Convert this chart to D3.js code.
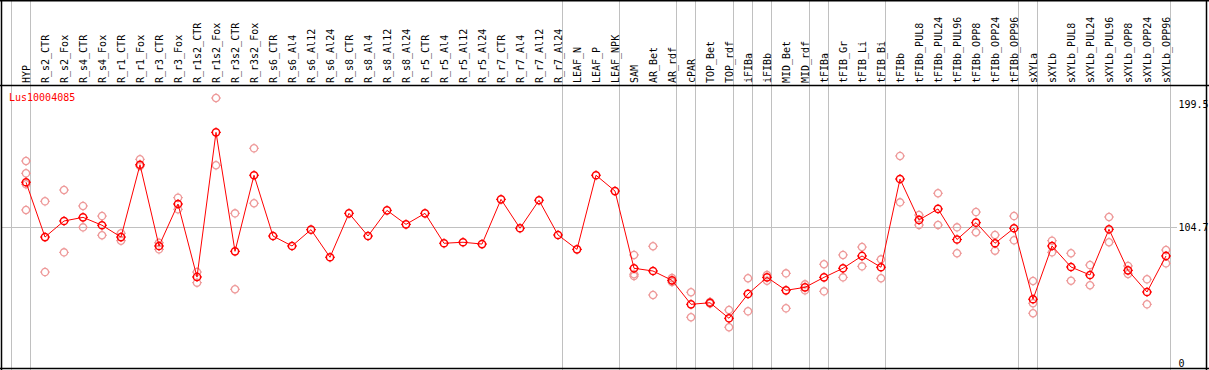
<!DOCTYPE html>
<html>
<head>
<meta charset="utf-8">
<script src="https://cdn.jsdelivr.net/npm/d3@7"></script>
<style>
  body { margin: 0; background: #ffffff; }
  text { font-family: "DejaVu Sans Mono", monospace; font-size: 10px; }
</style>
</head>
<body>
<svg id="chart" width="1209" height="370"></svg>
<script>
const geneName = "Lus10004085";

const categories = [
  "HYP", "R_s2_CTR", "R_s2_Fox", "R_s4_CTR", "R_s4_Fox", "R_r1_CTR", "R_r1_Fox",
  "R_r3_CTR", "R_r3_Fox", "R_r1s2_CTR", "R_r1s2_Fox", "R_r3s2_CTR", "R_r3s2_Fox",
  "R_s6_CTR", "R_s6_Al4", "R_s6_Al12", "R_s6_Al24", "R_s8_CTR", "R_s8_Al4",
  "R_s8_Al12", "R_s8_Al24", "R_r5_CTR", "R_r5_Al4", "R_r5_Al12", "R_r5_Al24",
  "R_r7_CTR", "R_r7_Al4", "R_r7_Al12", "R_r7_Al24", "LEAF_N", "LEAF_P", "LEAF_NPK",
  "SAM", "AR_Bet", "AR_rdf", "cPAR", "TOP_Bet", "TOP_rdf", "iFIBa", "iFIBb",
  "MID_Bet", "MID_rdf", "tFIBa", "tFIB_Gr", "tFIB_Li", "tFIB_Bi", "tFIBb",
  "tFIBb_PUL8", "tFIBb_PUL24", "tFIBb_PUL96", "tFIBb_OPP8", "tFIBb_OPP24", "tFIBb_OPP96",
  "sXYLa", "sXYLb", "sXYLb_PUL8", "sXYLb_PUL24", "sXYLb_PUL96", "sXYLb_OPP8",
  "sXYLb_OPP24", "sXYLb_OPP96"
];

// mean expression per sample
const means = [
  139.5, 97.2, 109.6, 112.4, 106.3, 97.2, 153.0,
  90.3, 122.7, 66.4, 178.0, 86.2, 144.9,
  98.0, 90.3, 102.9, 81.6, 115.5, 98.0,
  117.8, 107.0, 115.5, 92.4, 93.2, 91.8,
  126.3, 104.0, 125.6, 98.8, 87.7, 144.9, 132.7,
  73.1, 71.0, 63.8, 45.3, 46.5, 34.5, 53.3, 66.1,
  56.1, 58.4, 66.1, 73.1, 82.6, 73.9, 142.0,
  110.4, 118.9, 95.3, 108.3, 92.4, 104.0,
  49.2, 90.3, 74.1, 67.9, 103.2, 71.5,
  54.8, 82.6
];

// individual replicates (empty where none shown)
const replicates = [
  [155.9, 146.4, 137.9, 118.1], [124.8, 70.2], [133.5, 85.4], [121.2, 104.7], [113.4, 98.6], [100.1, 94.4], [157.2, 152.0],
  [92.8, 87.7], [127.6, 118.6], [70.2, 62.0], [204.5, 152.6], [115.5, 56.9], [165.7, 123.3],
  [], [], [], [], [], [],
  [], [], [], [], [], [],
  [], [], [], [], [], [], [],
  [83.4, 68.5, 67.1], [90.1, 52.5], [65.6, 62.5], [54.6, 35.3], [47.1, 45.9], [40.9, 27.6], [65.4, 39.9], [67.9, 63.5],
  [69.2, 42.2], [60.7, 56.1], [76.2, 55.3], [83.4, 66.1], [89.5, 74.6], [80.0, 65.4], [159.8, 124.0],
  [114.2, 106.5], [131.0, 106.5], [104.7, 84.7], [116.5, 100.9], [98.8, 86.7], [113.4, 94.7],
  [63.3, 46.1, 38.4], [94.4, 85.4], [84.7, 63.5], [75.6, 60.0], [112.7, 93.2], [74.9, 68.7],
  [64.6, 45.3], [87.2, 76.9]
];

// samples after which a group separator is drawn
const groupEnds = [
  "HYP", "R_r7_Al24", "LEAF_NPK", "AR_rdf", "cPAR", "TOP_rdf", "iFIBa", "iFIBb",
  "MID_rdf", "tFIBa", "tFIB_Bi", "tFIBb_OPP96", "sXYLa", "sXYLb_OPP96"
];

const yTicks = [0, 104.7, 199.5];
const gridValue = 104.7;

const svg = d3.select("#chart");
const W = +svg.attr("width");
const H = +svg.attr("height");
const headerBottom = 85.5;

const x = d3
  .scalePoint()
  .domain(categories)
  .range([26, 1166]);

const y = d3
  .scaleLinear()
  .domain([0, 199.5])
  .range([363, 104.5]);

const step = x.step();
const sepX = name => Math.round(x(name) + 4) + 0.5;

// group separators (full height)
const seps = [Math.round(x(categories[0]) - step + 4) + 0.5].concat(groupEnds.map(sepX));
svg
  .append("g")
  .selectAll("line")
  .data(seps)
  .enter()
  .append("line")
  .attr("x1", d => d)
  .attr("x2", d => d)
  .attr("y1", 0)
  .attr("y2", H)
  .attr("stroke", "#c0c0c0")
  .attr("stroke-width", 1);

// gridline
svg
  .append("line")
  .attr("x1", 1)
  .attr("x2", 1177)
  .attr("y1", Math.round(y(gridValue)) + 0.5)
  .attr("y2", Math.round(y(gridValue)) + 0.5)
  .attr("stroke", "#c0c0c0");

// sample labels
svg
  .append("g")
  .selectAll("text")
  .data(categories)
  .enter()
  .append("text")
  .attr("transform", d => `translate(${x(d)}, 83) rotate(-90)`)
  .attr("dy", "0.35em")
  .attr("fill", "#000000")
  .text(d => d);

// right axis labels
svg
  .append("g")
  .selectAll("text")
  .data(yTicks)
  .enter()
  .append("text")
  .attr("x", 1178.5)
  .attr("y", d => y(d))
  .attr("dy", "0.35em")
  .attr("fill", "#000000")
  .text(d => d);

svg
  .append("text")
  .attr("x", 9)
  .attr("y", 101)
  .attr("fill", "#ff0000")
  .text(geneName);

function marker(sel, color, width) {
  sel.each(function(d) {
    const g = d3.select(this);
    g
      .append("circle")
      .attr("r", 3.6)
      .attr("fill", "none")
      .attr("stroke", color)
      .attr("stroke-width", width);
    [[0, -1], [1, 0], [0, 1], [-1, 0]].forEach(([dx, dy]) => {
      g
        .append("line")
        .attr("x1", dx * 3.6)
        .attr("y1", dy * 3.6)
        .attr("x2", dx * 5)
        .attr("y2", dy * 5)
        .attr("stroke", color)
        .attr("stroke-width", 1);
    });
  });
}

// replicate points
const repData = [];
replicates.forEach((reps, i) => {
  reps.forEach(v => repData.push({ name: categories[i], value: v }));
});

svg
  .append("g")
  .selectAll("g")
  .data(repData)
  .enter()
  .append("g")
  .attr("transform", d => `translate(${x(d.name)}, ${y(d.value)})`)
  .call(marker, "#ee9a9a", 1.3);

// mean line
const meanData = categories.map((c, i) => ({ name: c, value: means[i] }));
const valueline = d3
  .line()
  .x(d => x(d.name))
  .y(d => y(d.value));

svg
  .append("path")
  .datum(meanData)
  .attr("d", valueline)
  .attr("fill", "none")
  .attr("stroke", "#ff0000")
  .attr("stroke-width", 1);

svg
  .append("g")
  .selectAll("g")
  .data(meanData)
  .enter()
  .append("g")
  .attr("transform", d => `translate(${x(d.name)}, ${y(d.value)})`)
  .call(marker, "#ff0000", 1.5);

// frame
const frame = svg.append("g").attr("stroke", "#000000").attr("stroke-width", 1.5);
frame.append("line").attr("x1", 0).attr("x2", W).attr("y1", 0.75).attr("y2", 0.75);
frame.append("line").attr("x1", 0).attr("x2", W).attr("y1", headerBottom).attr("y2", headerBottom);
frame.append("line").attr("x1", 0).attr("x2", W).attr("y1", 368.5).attr("y2", 368.5);
frame.append("line").attr("x1", 1.5).attr("x2", 1.5).attr("y1", 0).attr("y2", H);
frame.append("line").attr("x1", 1206.5).attr("x2", 1206.5).attr("y1", 0).attr("y2", H);
</script>
</body>
</html>
